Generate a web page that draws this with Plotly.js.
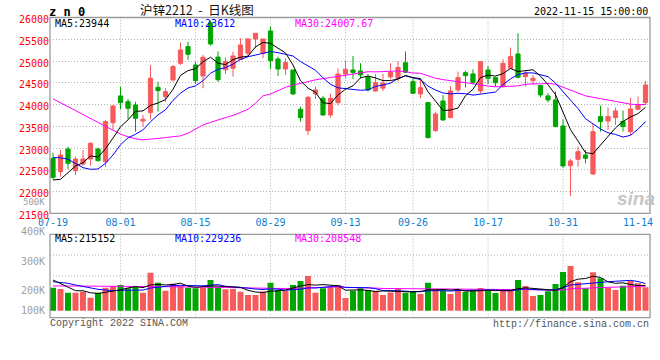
<!DOCTYPE html>
<html><head><meta charset="utf-8">
<script src="https://cdn.plot.ly/plotly-3.0.1.min.js"></script>
<style>html,body{margin:0;padding:0;background:#fff}#chart{width:660px;height:360px}</style>
</head><body><div id="chart"></div>
<script>
// ---------- data ----------
const dates = ['07-19','07-20','07-21','07-22','07-25','07-26','07-27','07-28','07-29',
 '08-01','08-02','08-03','08-04','08-05','08-08','08-09','08-10','08-11','08-12',
 '08-15','08-16','08-17','08-18','08-19','08-22','08-23','08-24','08-25','08-26',
 '08-29','08-30','08-31','09-01','09-02','09-05','09-06','09-07','09-08','09-09',
 '09-13','09-14','09-15','09-16','09-19','09-20','09-21','09-22','09-23',
 '09-26','09-27','09-28','09-29','09-30','10-10','10-11','10-12','10-13','10-14',
 '10-17','10-18','10-19','10-20','10-21','10-24','10-25','10-26','10-27','10-28',
 '10-31','11-01','11-02','11-03','11-04','11-07','11-08','11-09','11-10','11-11',
 '11-14','11-15'];
const open = [22764,22457,22978,22480,22633,22748,22978,22687,23583,24197,
 24066,23990,23622,23814,24396,24181,24564,24947,25331,24909,
 24656,25880,25090,24800,24832,25039,25177,25507,25177,25691,
 25047,24817,24794,23890,23400,24242,24143,23760,24043,24700,
 24794,24772,24622,24311,24375,24635,24605,24960,24526,24243,
 24044,23400,24082,23699,24335,24733,24703,24312,24795,24618,
 24411,24833,25162,24641,24549,24435,24197,24105,23507,22595,
 22741,22841,22404,23722,23622,23699,23607,23377,23890,24044];
const high = [22894,22955,23032,22802,22955,23131,23009,23645,23990,24411,
 24128,24066,23760,24909,24526,24373,24909,25423,25446,24986,
 25139,25930,25220,25080,25216,25522,25522,25637,25507,25790,
 25101,25063,24794,23951,24200,24411,24200,24250,24830,25005,
 25116,24950,24700,24700,24700,24950,25000,25220,24618,24565,
 24044,23837,24220,24427,24756,24772,24810,24986,24887,24641,
 25040,25308,25638,24795,24680,24450,24258,24297,23660,22749,
 23032,22955,23553,23975,23929,23929,23860,24159,24182,24541];
const low = [22281,22342,22518,22380,22595,22595,22687,22572,23415,23890,
 23668,23377,23492,23660,23836,24066,24526,24909,25024,24473,
 24373,25354,24520,24700,24641,25039,25101,25292,25063,24817,
 24656,24679,24219,23607,23300,24127,23740,23699,23980,24600,
 24580,24600,24300,24296,24310,24580,24530,24730,24243,24143,
 23224,23377,23630,23684,24281,24389,24465,24258,24465,24411,
 24389,24818,24603,24411,24450,24166,24051,23492,22550,21898,
 22572,22649,22381,23377,23415,23530,23377,23300,23875,23990];
const close = [22327,22840,22649,22748,22748,23108,22710,23607,23967,24043,
 23913,23683,23660,24603,24319,24296,24871,25254,25154,24549,
 25085,25392,24570,24990,25116,25369,25507,25637,25507,25009,
 24817,24963,24242,23698,24166,24334,23760,24143,24702,24812,
 24737,24680,24335,24500,24495,24745,24850,24740,24258,24388,
 23239,23783,23645,24312,24618,24664,24511,24986,24603,24503,
 24948,25101,24626,24718,24603,24220,24105,23492,22588,22703,
 22917,22764,23377,23607,23722,23852,23492,23898,23990,24450];
const volume = [215000,208500,190000,190000,195000,165000,190000,215000,223500,228500,
 212000,223500,190000,290000,240000,200000,235000,223500,215000,212000,
 215000,253500,220000,207000,208500,195000,178500,178500,195000,240000,
 203500,198500,228500,248500,273500,190000,212000,219000,228500,163000,
 200000,212000,203500,200000,178500,191000,212500,190000,198500,183500,
 240000,208500,198500,183500,203500,193500,206500,213500,198500,188500,
 203500,203500,253500,223500,173500,178500,197000,233500,293500,323500,
 242000,212000,292000,262000,215000,203500,225000,248500,237000,217000];
// moving-average values before a full window exists
const ma5Head = [22266,22281,22434,22587];
const ma10Head = [22779,22779,22741,22649,22549,22511,22518,22649,22840];
const ma30Head = [24130,24040,23950,23860,23770,23680,23590,23500,23400,23320,
 23260,23210,23190,23200,23220,23240,23255,23280,23340,23430,
 23530,23590,23650,23700,23750,23820,23890,24030,24200];
const volMa5Head = [253500,237000,216800,200000];
const volMa10Head = [245000,241800,236800,228500,220000,211800,206800,203500,200200];
const volMa30Head = [224000,224000,223500,223500,223000,223000,223000,223000,223000,223500,
 223500,223000,222000,221000,220500,220000,220000,219500,218500,217500,
 217000,216500,216500,216000,215000,213500,212000,211000,210000];
const tickDates = ['07-19','08-01','08-15','08-29','09-13','09-26','10-17','10-31','11-14'];
const gridDates = ['08-01','08-15','08-29','09-13','09-26','10-17','10-31'];
const priceTicks = [21500,22000,22500,23000,23500,24000,24500,25000,25500,26000];
const volLabels = ['500K','400K','300K','200K','100K'];
const maLabels = ['MA5:23944','MA10:23612','MA30:24007.67'];
const volMaLabels = ['MA5:215152','MA10:229236','MA30:208548'];
const VOL_BASE = 100000;

// ---------- helpers ----------
function movingAvg(arr, n, head) {
  return arr.map((v, i) => {
    if (i < n - 1) return head[i];
    let s = 0; for (let k = i - n + 1; k <= i; k++) s += arr[k];
    return s / n;
  });
}
const W = 660, H = 360;
const px = x => x / W, py = y => 1 - y / H;
const RED = '#f65a5a', GREEN = '#00a600';
const MONO = 'DejaVu Sans Mono, monospace';

const ma5 = movingAvg(close, 5, ma5Head);
const ma10 = movingAvg(close, 10, ma10Head);
const ma30 = movingAvg(close, 30, ma30Head);
const vma5 = movingAvg(volume, 5, volMa5Head);
const vma10 = movingAvg(volume, 10, volMa10Head);
const vma30 = movingAvg(volume, 30, volMa30Head);
const barColors = close.map((c, i) => c >= open[i] ? RED : GREEN);

const traces = [
  {type:'candlestick', x:dates, open:open, high:high, low:low, close:close,
   xaxis:'x', yaxis:'y', whiskerwidth:0, hoverinfo:'skip',
   increasing:{line:{color:RED,width:1}, fillcolor:RED},
   decreasing:{line:{color:GREEN,width:1}, fillcolor:GREEN}},
  {type:'scatter', mode:'lines', x:dates, y:ma30, line:{color:'#ff00ff',width:1}, xaxis:'x', yaxis:'y', hoverinfo:'skip'},
  {type:'scatter', mode:'lines', x:dates, y:ma10, line:{color:'#0000ff',width:1}, xaxis:'x', yaxis:'y', hoverinfo:'skip'},
  {type:'scatter', mode:'lines', x:dates, y:ma5, line:{color:'#000000',width:1}, xaxis:'x', yaxis:'y', hoverinfo:'skip'},
  {type:'bar', x:dates, y:volume.map(v => v - VOL_BASE), base:VOL_BASE, width:0.8,
   marker:{color:barColors, line:{width:0}}, xaxis:'x2', yaxis:'y2', hoverinfo:'skip'},
  {type:'scatter', mode:'lines', x:dates, y:vma30, line:{color:'#ff00ff',width:1}, xaxis:'x2', yaxis:'y2', hoverinfo:'skip'},
  {type:'scatter', mode:'lines', x:dates, y:vma10, line:{color:'#0000ff',width:1}, xaxis:'x2', yaxis:'y2', hoverinfo:'skip'},
  {type:'scatter', mode:'lines', x:dates, y:vma5, line:{color:'#000000',width:1}, xaxis:'x2', yaxis:'y2', hoverinfo:'skip'}
];

const GRID = '#b4b4b4', FRAME = '#9a9a9a', DOT = '1px,2px';
const shapes = [];
gridDates.forEach(d => {
  const xi = dates.indexOf(d);
  shapes.push({type:'line', xref:'x', yref:'y domain', x0:xi, x1:xi, y0:0, y1:1, line:{color:GRID,width:1,dash:DOT}, layer:'below'});
  shapes.push({type:'line', xref:'x2', yref:'y2 domain', x0:xi, x1:xi, y0:0, y1:1, line:{color:GRID,width:1,dash:DOT}, layer:'below'});
});
[0.5, 0.75].forEach(f => shapes.push({type:'line', xref:'x2 domain', yref:'y2 domain', x0:0, x1:1, y0:f, y1:f, line:{color:GRID,width:1,dash:DOT}, layer:'below'}));
shapes.push({type:'rect', xref:'x domain', yref:'y domain', x0:0, x1:1, y0:0, y1:1, line:{color:FRAME,width:1.3}});
shapes.push({type:'rect', xref:'x2 domain', yref:'y2 domain', x0:0, x1:1, y0:0, y1:1, line:{color:FRAME,width:1.3}});

function ann(text, x, y, anchor, color, size, family, extra) {
  return Object.assign({xref:'paper', yref:'paper', x:px(x), y:py(y), xanchor:anchor, yanchor:'middle',
    text:text, showarrow:false, borderpad:0, font:{family:family||MONO, size:size||10, color:color}}, extra||{});
}
const maColors = ['#000000','#0000ff','#ff00ff'];
const labelX = [54, 174, 294];
const volLabelY = [201.5, 231.5, 261.8, 290.8, 310.5];
const volLabelSize = [9, 10, 10, 10, 10];
const annotations = [
  ann('<b>z n 0</b>', 48, 12, 'left', '#000', 12),
  ann('沪锌2212\u00a0\u00a0-\u00a0\u00a0日K线图', 139, 9.5, 'left', '#111', 12.5, 'Noto Sans CJK SC'),
  ann('2022-11-15 15:00:00', 649, 11.5, 'right', '#000', 10),
  ann('Copyright 2022 SINA.COM', 49, 323.5, 'left', '#555', 10, 'Liberation Mono, monospace'),
  ann('http://finance.sina.com.cn', 650, 324, 'right', '#555', 10, 'Liberation Mono, monospace'),
  ann('<i><b>sina</b></i>', 636, 198, 'center', '#c6c6c6', 19, 'Liberation Sans')
];
maLabels.forEach((t, i) => annotations.push(ann(t, labelX[i], 23.3, 'left', maColors[i], 10)));
volMaLabels.forEach((t, i) => annotations.push(ann(t, labelX[i], 238.3, 'left', maColors[i], 10)));
volLabels.forEach((t, i) => annotations.push(ann(t, 46, volLabelY[i], 'right', '#a0a0a0', volLabelSize[i])));

const xBase = {type:'category', range:[-0.4, 79.6], domain:[px(50), px(650)], showgrid:false,
  zeroline:false, showline:false, ticks:'', fixedrange:true};
const layout = {
  width:W, height:H, margin:{l:0,r:0,t:0,b:0}, paper_bgcolor:'#fff', plot_bgcolor:'#fff',
  showlegend:false, boxgap:0.2,
  xaxis:Object.assign({}, xBase, {anchor:'y', rangeslider:{visible:false},
    tickmode:'array', tickvals:tickDates, ticktext:tickDates, ticklabelstandoff:2,
    tickfont:{family:MONO, size:10, color:'#0a7fd0'}}),
  yaxis:{domain:[py(213.3), py(17.5)], range:[21500, 26000], anchor:'x',
    tickmode:'array', tickvals:priceTicks, ticktext:priceTicks.map(String), ticks:'', showline:false, zeroline:false,
    showgrid:true, gridcolor:GRID, griddash:DOT, gridwidth:1,
    ticklabelshift:2, tickfont:{family:MONO, size:10, color:'#ff0000'}, fixedrange:true},
  xaxis2:Object.assign({}, xBase, {anchor:'y2', matches:'x', showticklabels:false}),
  yaxis2:{domain:[py(317.7), py(234.3)], range:[65000, 482000], anchor:'x2',
    showticklabels:false, showgrid:false, zeroline:false, showline:false, ticks:'', fixedrange:true},
  shapes:shapes, annotations:annotations
};
Plotly.newPlot('chart', traces, layout, {staticPlot:true, displayModeBar:false});
</script>
</body></html>
